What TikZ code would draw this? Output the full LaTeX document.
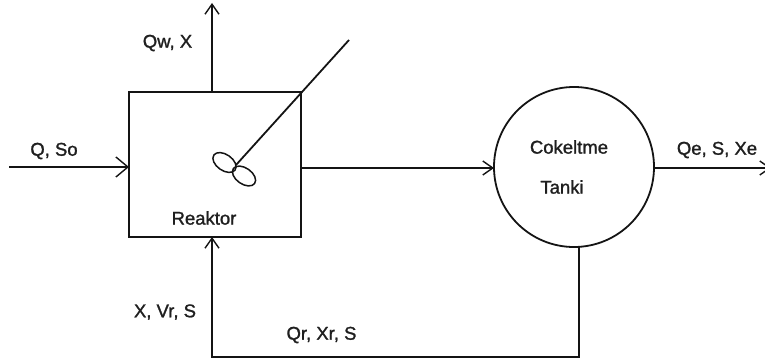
\documentclass[tikz,border=0pt]{standalone}
\usepackage{fontspec}
\setmainfont{Liberation Sans}[FakeBold=1.3]
\usetikzlibrary{arrows.meta,calc}
\tikzset{
  x=1pt,y=-1pt,
  line/.style={draw=black!92,line width=1.8pt},
  flow/.style={line,-{Straight Barb[length=10pt,width=14pt,line width=1.4pt]}},
  flowwide/.style={line,-{Straight Barb[length=12pt,width=20pt,line width=1.4pt]}},
  lab/.style={inner sep=0pt,font=\fontsize{18.5}{20}\selectfont,text=black!88},
  vessel/.style={line,inner sep=0pt,outer sep=0pt}
}
\begin{document}
\begin{tikzpicture}
\useasboundingbox (0,0) rectangle (765,361);
\node[vessel,rectangle,minimum width=172pt,minimum height=145pt] (reactor) at (215,164.5) {};
\node[vessel,circle,minimum size=160pt] (tank) at (574,167) {};
\coordinate (feed) at (9,167);
\coordinate (topout) at (212,3);
\coordinate (effluent) at (771,168);
\coordinate (shaftend) at (349,40);
\coordinate (shafthub) at (236,165);
\coordinate (tankbottom) at (579,246);
\coordinate (recyclecorner) at (579,357);
\coordinate (recycleup) at (212,357);
\draw[flowwide] (feed) -- (feed -| reactor.west);
\draw[flow] (reactor.north -| topout) -- (topout);
\draw[line] (shaftend) -- (shafthub);
\draw[line,line width=1.5pt,rotate around={-35:(224.5,162.5)}] (224.5,162.5) ellipse [x radius=13pt,y radius=8pt];
\draw[line,line width=1.5pt,rotate around={-35:(244,176)}] (244,176) ellipse [x radius=13pt,y radius=8pt];
\draw[flow] (reactor.east |- 0,168) -- (tank.west |- 0,168);
\draw[flow] (tank.east |- effluent) -- (effluent);
\draw[flow] (tankbottom) -- (recyclecorner) -- (recycleup) -- (recycleup |- reactor.south);
\node[lab] (l1) at (167.5,43) {Qw, X};
\node[lab] (l2) at (54,151) {Q, So};
\node[lab] (l3) at (204,218) {Reaktor};
\node[lab] (l4) at (569,147) {Cokeltme};
\node[lab] (l5) at (562,187) {Tanki};
\node[lab] (l6) at (717,150) {Qe, S, Xe};
\node[lab] (l7) at (165,312) {X, Vr, S};
\node[lab] (l8) at (321.5,335) {Qr, Xr, S};
\end{tikzpicture}
\end{document}
